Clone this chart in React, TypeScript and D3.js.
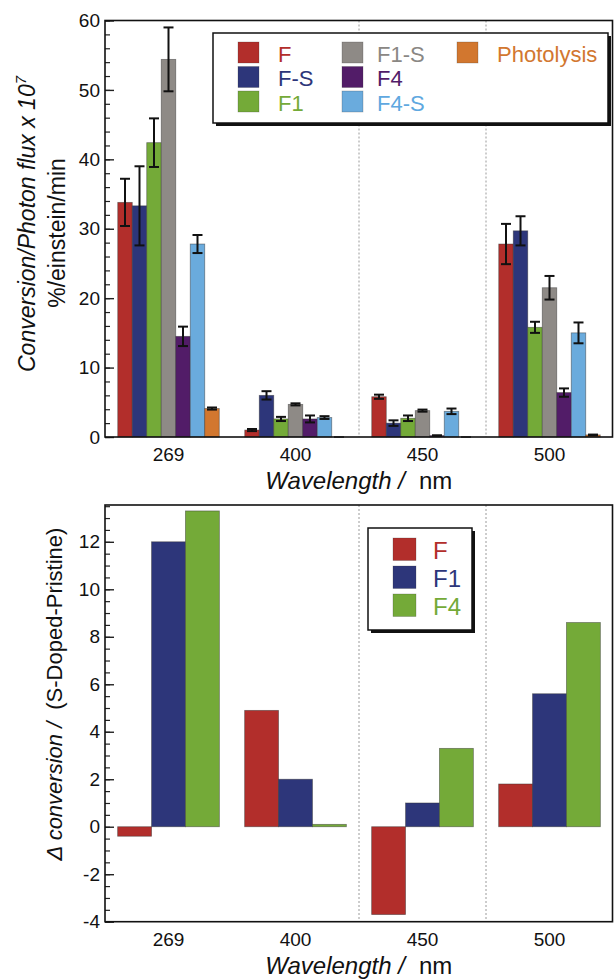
import { useEffect, useRef } from "react"
import * as d3 from "d3"

const wavelengths = ["269", "400", "450", "500"]

// top panel: conversion / photon flux
const topSeries = ["F", "F-S", "F1", "F1-S", "F4", "F4-S", "Photolysis"]
const topColors = ["#b22e2b", "#2d367a", "#74aa38", "#8e8a86", "#521c68", "#6aabdd", "#d2772f"]
const topLabelColors = ["#b22e2b", "#2d367a", "#74aa38", "#8a8784", "#521c68", "#5fa8e0", "#d2772f"]
const valF = [33.8, 1.0, 5.8, 27.8]
const valFS = [33.3, 6.0, 2.0, 29.7]
const valF1 = [42.4, 2.6, 2.7, 15.8]
const valF1S = [54.4, 4.7, 3.8, 21.5]
const valF4 = [14.5, 2.6, 0.2, 6.4]
const valF4S = [27.8, 2.8, 3.7, 15.0]
const valPhoto = [4.1, 0, 0, 0.3]
const errF = [3.4, 0.15, 0.3, 2.9]
const errFS = [5.7, 0.6, 0.4, 2.1]
const errF1 = [3.5, 0.3, 0.4, 0.8]
const errF1S = [4.6, 0.15, 0.15, 1.7]
const errF4 = [1.4, 0.5, 0.05, 0.6]
const errF4S = [1.3, 0.2, 0.4, 1.5]
const errPhoto = [0.15, 0, 0, 0.05]
const topValues = [valF, valFS, valF1, valF1S, valF4, valF4S, valPhoto]
const topErrors = [errF, errFS, errF1, errF1S, errF4, errF4S, errPhoto]
const topTicks = [0, 10, 20, 30, 40, 50, 60]

// bottom panel: S-doped minus pristine
const bottomSeries = ["F", "F1", "F4"]
const bottomColors = ["#b22e2b", "#2d367a", "#74aa38"]
const deltaF = [-0.4, 4.9, -3.7, 1.8]
const deltaF1 = [12.0, 2.0, 1.0, 5.6]
const deltaF4 = [13.3, 0.1, 3.3, 8.6]
const bottomValues = [deltaF, deltaF1, deltaF4]
const bottomTicks = [-4, -2, 0, 2, 4, 6, 8, 10, 12]

const FONT = "'Liberation Sans', Arial, Helvetica, sans-serif"

const App = () => {
  const svgRef = useRef(null)

  useEffect(() => {
    const svg = d3.select(svgRef.current)
    svg.selectAll("*").remove()
    svg.style("font-family", FONT)

    const left = 105
    const right = 612.5

    const drawFrame = (g, x0, top, bottom, y, majors, minorStep) => {
      // dotted separators before 450 and 500
      ;["450", "500"].forEach((c) => {
        g.append("line")
          .attr("x1", x0(c))
          .attr("x2", x0(c))
          .attr("y1", top)
          .attr("y2", bottom)
          .attr("stroke", "#9a9a9a")
          .attr("stroke-width", 1)
          .attr("stroke-dasharray", "2,2")
      })

      const [lo, hi] = y.domain()
      const minors = d3.range(Math.ceil(lo / minorStep) * minorStep, hi + 1e-9, minorStep)
      g.append("g")
        .attr("transform", `translate(${left},0)`)
        .call(d3.axisLeft(y).tickValues(minors).tickSize(-5).tickFormat(() => ""))
        .call((a) => a.select(".domain").remove())
        .selectAll("line")
        .attr("stroke", "#222")
        .attr("stroke-width", 1.2)

      const ax = g
        .append("g")
        .attr("transform", `translate(${left},0)`)
        .call(d3.axisLeft(y).tickValues(majors).tickSize(-9).tickPadding(5).tickFormat((d) => String(d)))
      ax.select(".domain").remove()
      ax.selectAll("line").attr("stroke", "#222").attr("stroke-width", 1.4)
      ax.selectAll("text").style("font-size", "19px").style("font-family", FONT).attr("fill", "#111")

      wavelengths.forEach((c) => {
        g.append("text")
          .attr("x", x0(c) + x0.bandwidth() / 2)
          .attr("y", bottom + 24)
          .attr("text-anchor", "middle")
          .style("font-size", "19px")
          .attr("fill", "#111")
          .text(c)
      })

      const title = g
        .append("text")
        .attr("x", (left + right) / 2)
        .attr("y", bottom + 52)
        .attr("text-anchor", "middle")
        .style("font-size", "24px")
        .attr("fill", "#111")
      title.append("tspan").style("font-style", "italic").text("Wavelength /")
      title.append("tspan").attr("dx", 14).text("nm")
    }

    const drawBox = (g, top, bottom) => {
      g.append("rect")
        .attr("x", left)
        .attr("y", top)
        .attr("width", right - left)
        .attr("height", bottom - top)
        .attr("fill", "none")
        .attr("stroke", "#111")
        .attr("stroke-width", 1.6)
    }

    // ---------- top panel ----------
    const tTop = 20.5
    const tBottom = 437
    const gt = svg.append("g")
    const x0 = d3.scaleBand().domain(wavelengths).range([left, right + 0.5])
    const x1 = d3.scaleBand().domain(topSeries).range([0, x0.bandwidth()]).paddingOuter(0.88)
    const yTop = d3.scaleLinear().domain([0, 60]).range([tBottom, tTop])

    drawFrame(gt, x0, tTop, tBottom, yTop, topTicks, 2)

    topSeries.forEach((s, i) => {
      wavelengths.forEach((c, j) => {
        const v = topValues[i][j]
        const e = topErrors[i][j]
        const bx = x0(c) + x1(s)
        if (v > 0) {
          gt.append("rect")
            .attr("x", bx)
            .attr("y", yTop(v))
            .attr("width", x1.bandwidth())
            .attr("height", yTop(0) - yTop(v))
            .attr("fill", topColors[i])
            .attr("stroke", "#333")
            .attr("stroke-opacity", 0.55)
            .attr("stroke-width", 0.8)
        }
        const cx = bx + x1.bandwidth() / 2
        const eb = gt.append("g").attr("stroke", v > 0 ? "#111" : "#555").attr("stroke-width", 2)
        eb.append("line").attr("x1", cx).attr("x2", cx).attr("y1", yTop(v - e)).attr("y2", yTop(v + e))
        ;[v - e, v + e].forEach((ev) => {
          eb.append("line")
            .attr("x1", cx - 5)
            .attr("x2", cx + 5)
            .attr("y1", yTop(ev))
            .attr("y2", yTop(ev))
        })
      })
    })

    drawBox(gt, tTop, tBottom)

    // top legend
    const lg = gt.append("g")
    lg.append("rect").attr("x", 216).attr("y", 36).attr("width", 395).attr("height", 90).attr("fill", "#111")
    lg.append("rect")
      .attr("x", 213)
      .attr("y", 33)
      .attr("width", 395)
      .attr("height", 90)
      .attr("fill", "#fff")
      .attr("stroke", "#111")
      .attr("stroke-width", 1.5)
    const legCols = [
      [238, 278],
      [342, 377],
      [457, 497],
    ]
    topSeries.forEach((s, i) => {
      const col = Math.floor(i / 3)
      const row = i % 3
      const [sx, tx] = legCols[col]
      const sy = 42 + row * 24.5
      lg.append("rect")
        .attr("x", sx)
        .attr("y", sy)
        .attr("width", 21)
        .attr("height", 21)
        .attr("fill", topColors[i])
        .attr("stroke", "#333")
        .attr("stroke-opacity", 0.4)
        .attr("stroke-width", 0.6)
      lg.append("text")
        .attr("x", tx)
        .attr("y", sy + 19.5)
        .style("font-size", "22px")
        .attr("fill", topLabelColors[i])
        .text(s)
    })

    // top y label
    const yl1 = gt
      .append("text")
      .attr("transform", "translate(35,224) rotate(-90)")
      .attr("text-anchor", "middle")
      .style("font-size", "23px")
      .style("font-style", "italic")
      .attr("fill", "#111")
    yl1.append("tspan").text("Conversion/Photon flux x 10")
    yl1.append("tspan").attr("dy", -9).style("font-size", "15px").text("7")
    gt.append("text")
      .attr("transform", "translate(65,233) rotate(-90)")
      .attr("text-anchor", "middle")
      .style("font-size", "23px")
      .attr("fill", "#111")
      .text("%/einstein/min")

    // ---------- bottom panel ----------
    const bTop = 505
    const bBottom = 921.7
    const gb = svg.append("g")
    const x1b = d3.scaleBand().domain(bottomSeries).range([0, x0.bandwidth()]).paddingOuter(0.373)
    const yBot = d3.scaleLinear().domain([-4, 13.55]).range([bBottom, bTop])

    drawFrame(gb, x0, bTop, bBottom, yBot, bottomTicks, 0.5)

    bottomSeries.forEach((s, i) => {
      wavelengths.forEach((c, j) => {
        const v = bottomValues[i][j]
        gb.append("rect")
          .attr("x", x0(c) + x1b(s))
          .attr("y", yBot(Math.max(v, 0)))
          .attr("width", x1b.bandwidth())
          .attr("height", Math.abs(yBot(v) - yBot(0)))
          .attr("fill", bottomColors[i])
          .attr("stroke", "#333")
          .attr("stroke-opacity", 0.55)
          .attr("stroke-width", 0.8)
      })
    })

    drawBox(gb, bTop, bBottom)

    // bottom legend
    const lb = gb.append("g")
    lb.append("rect").attr("x", 371).attr("y", 531).attr("width", 104).attr("height", 102).attr("fill", "#111")
    lb.append("rect")
      .attr("x", 368)
      .attr("y", 528)
      .attr("width", 104)
      .attr("height", 102)
      .attr("fill", "#fff")
      .attr("stroke", "#111")
      .attr("stroke-width", 1.5)
    bottomSeries.forEach((s, i) => {
      const sy = 538 + i * 28
      lb.append("rect")
        .attr("x", 393)
        .attr("y", sy)
        .attr("width", 23)
        .attr("height", 22.5)
        .attr("fill", bottomColors[i])
        .attr("stroke", "#333")
        .attr("stroke-opacity", 0.4)
        .attr("stroke-width", 0.6)
      lb.append("text")
        .attr("x", 433)
        .attr("y", sy + 21)
        .style("font-size", "24px")
        .attr("fill", bottomColors[i])
        .text(s)
    })

    // bottom y label
    const yl2 = gb
      .append("text")
      .attr("transform", "translate(62,694) rotate(-90)")
      .attr("text-anchor", "middle")
      .style("font-size", "22px")
      .attr("fill", "#111")
    yl2.append("tspan").style("font-style", "italic").text("\u0394 conversion /")
    yl2.append("tspan").attr("dx", 12).text("(S-Doped-Pristine)")
  }, [])

  return (
    <svg
      ref={svgRef}
      width={614}
      height={979}
      style={{ position: "absolute", left: 0, top: 0, background: "#fff" }}
    ></svg>
  )
}

export default App
